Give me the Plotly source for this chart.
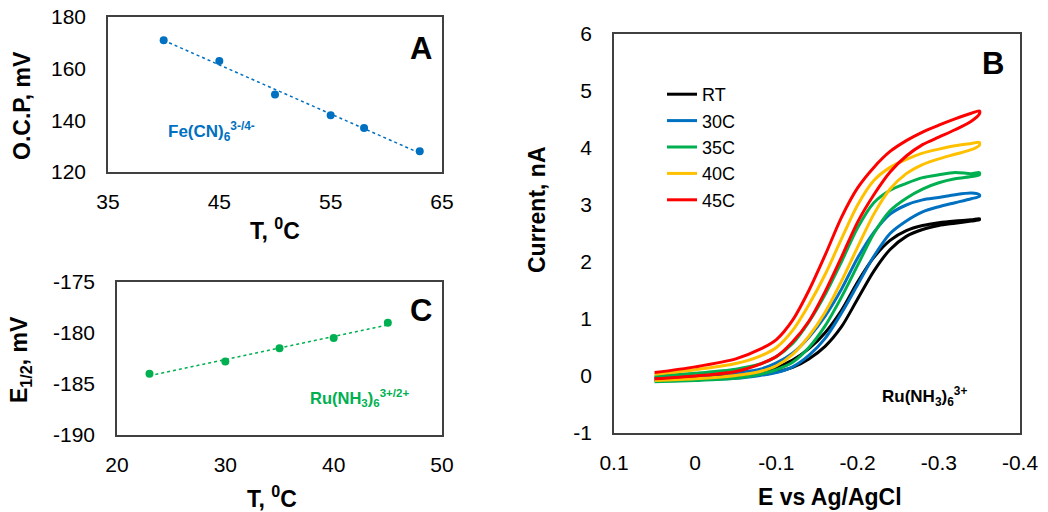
import numpy as np
import plotly.graph_objects as go

# ---------------- data ----------------
# Panel A: open circuit potential vs temperature
a_temp = [40, 45, 50, 55, 58, 63]
a_ocp = [171, 163, 150, 142, 137, 128]

# Panel C: half-wave potential vs temperature
c_temp = [23, 30, 35, 40, 45]
c_e12 = [-184.0, -182.8, -181.5, -180.5, -179.0]

# Panel B: voltammograms (potential grid shared by both sweep branches)
b_e = [0.05, 0.0, -0.05, -0.08, -0.10, -0.12, -0.14, -0.16, -0.18, -0.20,
       -0.22, -0.24, -0.26, -0.28, -0.30, -0.32, -0.34, -0.35]
b_names = ["RT", "30C", "35C", "40C", "45C"]
# upper branch
b_up = {
    "RT":  [-0.04, -0.02, 0.01, 0.07, 0.15, 0.28, 0.48, 0.76, 1.15, 1.65, 2.08, 2.38, 2.55, 2.64, 2.69, 2.72, 2.74, 2.76],
    "30C": [-0.03, 0.0, 0.06, 0.12, 0.23, 0.40, 0.68, 1.05, 1.52, 2.07, 2.52, 2.84, 3.00, 3.09, 3.13, 3.18, 3.21, 3.18],
    "35C": [0.0, 0.05, 0.12, 0.21, 0.34, 0.57, 0.95, 1.43, 2.00, 2.60, 3.04, 3.26, 3.38, 3.48, 3.53, 3.57, 3.55, 3.57],
    "40C": [0.03, 0.11, 0.22, 0.35, 0.50, 0.80, 1.25, 1.78, 2.40, 3.00, 3.43, 3.66, 3.80, 3.91, 3.98, 4.04, 4.08, 4.10],
    "45C": [0.06, 0.16, 0.30, 0.47, 0.64, 0.98, 1.50, 2.12, 2.78, 3.30, 3.66, 3.94, 4.13, 4.28, 4.40, 4.51, 4.61, 4.65],
}
# lower branch
b_low = {
    "RT":  [-0.07, -0.05, -0.02, 0.02, 0.07, 0.15, 0.30, 0.52, 0.86, 1.35, 1.84, 2.22, 2.45, 2.57, 2.64, 2.68, 2.72, 2.74],
    "30C": [-0.08, -0.06, -0.04, 0.01, 0.06, 0.16, 0.36, 0.66, 1.10, 1.60, 2.10, 2.50, 2.72, 2.88, 2.97, 3.04, 3.11, 3.15],
    "35C": [-0.10, -0.08, -0.04, 0.03, 0.11, 0.24, 0.50, 0.88, 1.38, 1.94, 2.50, 2.90, 3.12, 3.28, 3.39, 3.46, 3.50, 3.53],
    "40C": [-0.08, -0.05, 0.01, 0.08, 0.18, 0.38, 0.70, 1.12, 1.66, 2.26, 2.84, 3.28, 3.55, 3.71, 3.81, 3.89, 3.97, 4.05],
    "45C": [-0.05, 0.0, 0.08, 0.21, 0.34, 0.60, 0.96, 1.48, 2.08, 2.70, 3.18, 3.58, 3.86, 4.06, 4.19, 4.32, 4.47, 4.60],
}
b_colors = {"RT": "#000000", "30C": "#0070C0", "35C": "#00B050", "40C": "#FFC000", "45C": "#FF0000"}

# tick labels
a_xticks = [35, 45, 55, 65]
a_yticks = [120, 140, 160, 180]
c_xticks = [20, 30, 40, 50]
c_yticks = [-190, -185, -180, -175]
c_yticktext = ["-190", "-185", "-180", "-175"]
b_xticks = [0.1, 0.0, -0.1, -0.2, -0.3, -0.4]
b_xticktext = ["0.1", "0", "-0.1", "-0.2", "-0.3", "-0.4"]
b_yticks = [-1, 0, 1, 2, 3, 4, 5, 6]
b_yticktext = ["-1", "0", "1", "2", "3", "4", "5", "6"]

BLUE = "#0070C0"
GREEN = "#00B050"
FONT = "Liberation Sans, Arial, sans-serif"
W, H = 1048, 512

fig = go.Figure()

# ---- Panel A ----
ka, ba = np.polyfit(a_temp, a_ocp, 1)
a_tx = [min(a_temp), max(a_temp)]
fig.add_trace(go.Scatter(x=a_tx, y=[ka * v + ba for v in a_tx], mode="lines",
                         line=dict(color=BLUE, width=1.5, dash="dot"),
                         xaxis="x", yaxis="y", showlegend=False, hoverinfo="skip"))
fig.add_trace(go.Scatter(x=a_temp, y=a_ocp, mode="markers",
                         marker=dict(color=BLUE, size=8),
                         xaxis="x", yaxis="y", showlegend=False))

# ---- Panel C ----
kc, bc = np.polyfit(c_temp, c_e12, 1)
c_tx = [min(c_temp), max(c_temp)]
fig.add_trace(go.Scatter(x=c_tx, y=[kc * v + bc for v in c_tx], mode="lines",
                         line=dict(color=GREEN, width=1.5, dash="dot"),
                         xaxis="x2", yaxis="y2", showlegend=False, hoverinfo="skip"))
fig.add_trace(go.Scatter(x=c_temp, y=c_e12, mode="markers",
                         marker=dict(color=GREEN, size=8),
                         xaxis="x2", yaxis="y2", showlegend=False))

# ---- Panel B ----
for nm in b_names:
    xs = list(b_e) + list(b_e[::-1])
    ys = list(b_low[nm]) + list(b_up[nm][::-1])
    fig.add_trace(go.Scatter(x=xs, y=ys, mode="lines", name=nm,
                             line=dict(color=b_colors[nm], width=3, shape="spline", smoothing=0.8),
                             xaxis="x3", yaxis="y3"))

def px_x(p):
    return p / W

def px_y(p):
    return 1 - p / H

axis_common = dict(showline=True, linecolor="#404040", linewidth=1.5, mirror=True,
                   showgrid=False, zeroline=False, ticks="", automargin=False,
                   tickfont=dict(family=FONT, size=21, color="#000000"))

fig.update_layout(
    width=W, height=H, autosize=False,
    margin=dict(l=0, r=0, t=0, b=0),
    paper_bgcolor="white", plot_bgcolor="white",
    font=dict(family=FONT, color="#000000"),
    xaxis=dict(domain=[px_x(108), px_x(442)], range=[35, 65], tickvals=a_xticks,
               anchor="y", ticklabelstandoff=10, **axis_common),
    yaxis=dict(domain=[px_y(172), px_y(17)], range=[120, 180], tickvals=a_yticks,
               anchor="x", ticklabelstandoff=16, **axis_common),
    xaxis2=dict(domain=[px_x(117), px_x(442)], range=[20, 50], tickvals=c_xticks,
                anchor="y2", ticklabelstandoff=10, **axis_common),
    yaxis2=dict(domain=[px_y(435), px_y(282)], range=[-190, -175], tickvals=c_yticks,
                ticktext=c_yticktext, anchor="x2", ticklabelstandoff=16, **axis_common),
    xaxis3=dict(domain=[px_x(614), px_x(1020)], range=[0.1, -0.4], tickvals=b_xticks,
                ticktext=b_xticktext, anchor="y3", ticklabelstandoff=10, **axis_common),
    yaxis3=dict(domain=[px_y(433), px_y(34)], range=[-1, 6], tickvals=b_yticks,
                ticktext=b_yticktext, anchor="x3", ticklabelstandoff=16, **axis_common),
    legend=dict(x=px_x(662), y=px_y(76), xanchor="left", yanchor="top",
                bgcolor="rgba(0,0,0,0)", font=dict(family=FONT, size=18, color="#000000"),
                tracegroupgap=0, itemwidth=30),
    showlegend=True,
)

def ann(text, x, y, size, color="#000000", angle=0, xanchor="center", bold=True):
    fig.add_annotation(text=("<b>%s</b>" % text) if bold else text,
                       x=px_x(x), y=px_y(y), xref="paper", yref="paper",
                       xanchor=xanchor, yanchor="middle", showarrow=False,
                       textangle=angle, font=dict(family=FONT, size=size, color=color))

# axis titles
ann("O.C.P, mV", 22, 106, 23, angle=-90)
ann("T, <sup>0</sup>C", 275, 229, 23)
ann("E<sub>1/2</sub>, mV", 20, 360, 23, angle=-90)
ann("T, <sup>0</sup>C", 272, 497, 23)
ann("Current, nA", 537, 210, 23, angle=-90)
ann("E vs Ag/AgCl", 830, 497, 23)

# panel letters
ann("A", 421, 48, 31)
ann("C", 421, 310, 31)
ann("B", 993, 63, 31)

# species labels
ann("Fe(CN)<sub>6</sub><sup>3-/4-</sup>", 166, 131, 17, color=BLUE, xanchor="left")
ann("Ru(NH<sub>3</sub>)<sub>6</sub><sup>3+/2+</sup>", 308, 398, 16.5, color=GREEN, xanchor="left")
ann("Ru(NH<sub>3</sub>)<sub>6</sub><sup>3+</sup>", 880, 396, 17, xanchor="left")

fig.write_html("out.html", config={"displayModeBar": False},
               post_script="document.body.style.margin='0';document.body.style.overflow='hidden';")
